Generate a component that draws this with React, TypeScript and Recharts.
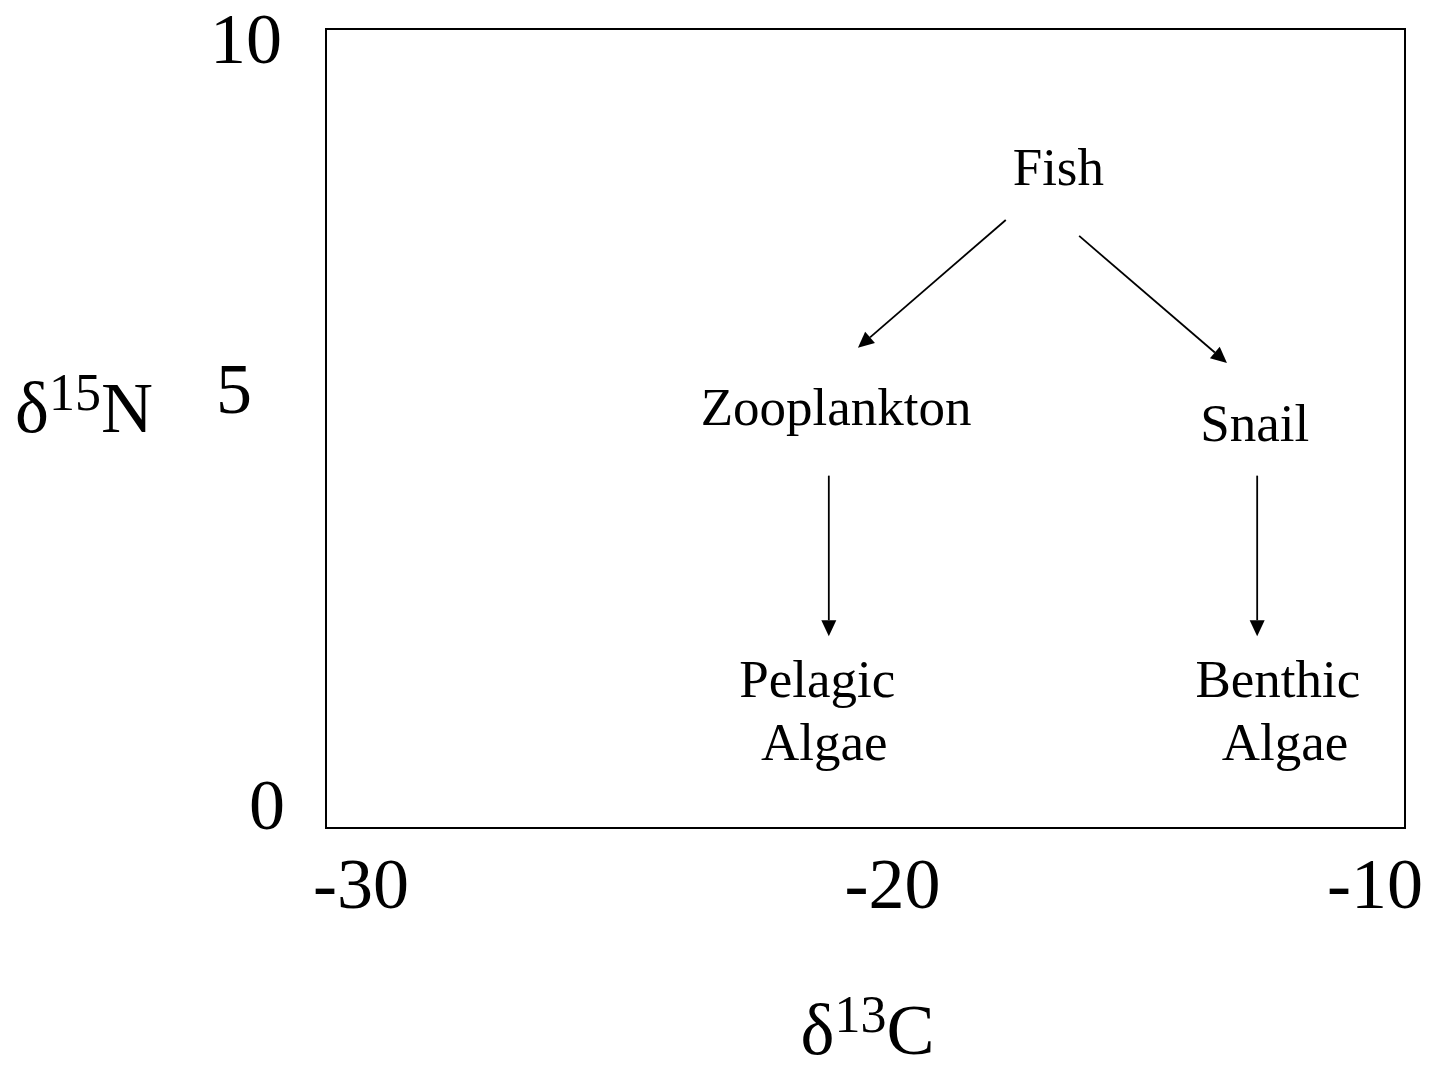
import { ScatterChart, Scatter, XAxis, YAxis, ReferenceArea, ReferenceLine, Label } from 'recharts';

// food web nodes, placed at their isotope values
const nodeNames = ['Fish', 'Zooplankton', 'Snail', 'Pelagic\nAlgae', 'Benthic\nAlgae'];
const nodeC13 = [-16.37, -20.49, -12.73, -20.84, -12.3];
const nodeN15 = [8.05, 5.04, 4.84, 1.64, 1.64];

// feeding arrows (predator -> prey)
const arrowFromC13 = [-17.4, -16.04, -20.68, -12.74];
const arrowFromN15 = [7.61, 7.41, 4.41, 4.41];
const arrowToC13 = [-20.14, -13.3, -20.68, -12.74];
const arrowToN15 = [6.01, 5.82, 2.4, 2.4];

const xTicks = [-30, -20, -10];
const yTicks = [0, 5, 10];

const FONT = '"Liberation Serif", "Times New Roman", serif';

const nodes = nodeNames.map((name, i) => ({ name, c13: nodeC13[i], n15: nodeN15[i] }));
const arrows = arrowFromC13.map((_, i) => [
  { x: arrowFromC13[i], y: arrowFromN15[i] },
  { x: arrowToC13[i], y: arrowToN15[i] },
]);

// odd label offsets copied from the slide
const xTickShift: Record<number, number> = { [-30]: 35, [-20]: 27, [-10]: -30 };
const yTickShift: Record<number, [number, number]> = { 10: [-44, 34], 5: [-74, -16], 0: [-41, 1] };

function XTick({ x, y, payload }: any) {
  return (
    <text x={x + (xTickShift[payload.value] ?? 0)} y={y + 80} textAnchor="middle" fontFamily={FONT} fontSize={72} fill="#000">
      {payload.value}
    </text>
  );
}

function YTick({ x, y, payload }: any) {
  const [dx, dy] = yTickShift[payload.value] ?? [0, 0];
  return (
    <text x={x + dx} y={y + dy} textAnchor="end" fontFamily={FONT} fontSize={72} fill="#000">
      {payload.value}
    </text>
  );
}

function NodeLabel({ cx, cy, payload }: any) {
  const lines = String(payload.name).split('\n');
  return (
    <text x={cx} y={cy} textAnchor="middle" fontFamily={FONT} fontSize={53} fill="#000">
      {lines.map((l, i) => (
        <tspan key={i} x={i === 0 ? cx - 3 : cx + 4} dy={i === 0 ? 0 : 63}>{l}</tspan>
      ))}
    </text>
  );
}

function Arrow({ x1, y1, x2, y2 }: any) {
  const dx = x2 - x1, dy = y2 - y1;
  const len = Math.sqrt(dx * dx + dy * dy) || 1;
  const ux = dx / len, uy = dy / len;
  const head = 16, half = 7.5;
  const bx = x2 - ux * head, by = y2 - uy * head;
  return (
    <g>
      <line x1={x1} y1={y1} x2={bx} y2={by} stroke="#000" strokeWidth={1.8} />
      <polygon
        points={`${x2},${y2} ${bx - uy * half},${by + ux * half} ${bx + uy * half},${by - ux * half}`}
        fill="#000"
      />
    </g>
  );
}

function AxisTitle({ x, y, iso, el, anchor }: { x: number; y: number; iso: string; el: string; anchor: 'start' | 'middle' }) {
  return (
    <text x={x} y={y} textAnchor={anchor} fontFamily={FONT} fontSize={72} fill="#000">
      <tspan>δ</tspan>
      <tspan fontSize={52} dy={-22}>{iso}</tspan>
      <tspan dy={22}>{el}</tspan>
    </text>
  );
}

export default function App() {
  return (
    <div style={{ position: 'absolute', left: 0, top: 0, background: '#fff' }}>
      <ScatterChart width={1432} height={1065} margin={{ top: 29, right: 27, bottom: 0, left: 0 }}>
        <XAxis
          type="number"
          dataKey="c13"
          domain={[-30, -10]}
          ticks={xTicks}
          height={237}
          axisLine={false}
          tickLine={false}
          tickSize={0}
          tickMargin={0}
          tick={<XTick />}
          interval={0}
        >
          <Label
            content={({ viewBox }: any) => (
              <AxisTitle x={viewBox.x + viewBox.width / 2 + 2} y={viewBox.y + 226} iso="13" el="C" anchor="middle" />
            )}
          />
        </XAxis>
        <YAxis
          type="number"
          dataKey="n15"
          domain={[0, 10]}
          ticks={yTicks}
          width={326}
          axisLine={false}
          tickLine={false}
          tickSize={0}
          tickMargin={0}
          tick={<YTick />}
          interval={0}
        >
          <Label
            content={({ viewBox }: any) => (
              <AxisTitle x={viewBox.x + 15} y={viewBox.y + 403} iso="15" el="N" anchor="start" />
            )}
          />
        </YAxis>
        <ReferenceArea x1={-30} x2={-10} y1={0} y2={10} fill="none" stroke="#000" strokeWidth={2} fillOpacity={0} />
        {arrows.map((seg, i) => (
          <ReferenceLine key={i} segment={seg} shape={(p: any) => <Arrow {...p} />} />
        ))}
        <Scatter data={nodes} isAnimationActive={false} shape={(p: any) => <NodeLabel {...p} />} />
      </ScatterChart>
    </div>
  );
}
